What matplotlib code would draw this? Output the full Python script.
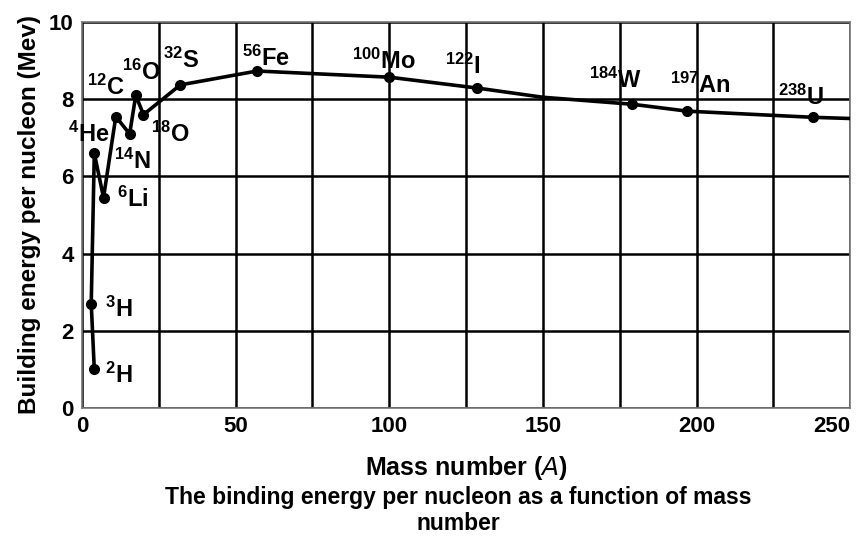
import matplotlib
matplotlib.use("Agg")
import matplotlib.pyplot as plt
from matplotlib.ticker import MultipleLocator

plt.rcParams['font.family'] = ['Liberation Sans', 'DejaVu Sans']
plt.rcParams['mathtext.default'] = 'regular'

# curve points (mass number as drawn, binding energy per nucleon in MeV)
curve_x = [4, 3, 4, 7, 11, 15.5, 17.5, 20, 32, 57, 100, 128.5, 150, 179, 197, 238, 250]
curve_y = [1.0, 2.7, 6.6, 5.45, 7.55, 7.1, 8.1, 7.6, 8.37, 8.73, 8.57, 8.29, 8.05, 7.87, 7.69, 7.53, 7.5]
marked = [True]*10 + [True, True, False, True, True, True, False]

labels = [r'$^{2}$H', r'$^{3}$H', r'$^{4}$He', r'$^{6}$Li', r'$^{12}$C', r'$^{14}$N',
          r'$^{16}$O', r'$^{18}$O', r'$^{32}$S', r'$^{56}$Fe', r'$^{100}$Mo', r'$^{122}$I',
          r'$^{184}$W', r'$^{197}$An', r'$^{238}$U']
label_x = [7.5, 7.5, -4.5, 11.5, 1.5, 10.5, 13.0, 22.5, 26.3, 52, 88, 118, 165, 191.5, 226.5]
label_y = [0.85, 2.55, 7.1, 5.4, 8.3, 6.4, 8.7, 7.1, 9.0, 9.05, 8.97, 8.85, 8.5, 8.37, 8.06]

xtick_vals = [0, 50, 100, 150, 200, 250]
xtick_labels = ['0', '50', '100', '150', '200', '250']

fig = plt.figure(figsize=(8.57, 5.58), dpi=100)
ax = fig.add_axes([0.0957, 0.2688, 0.8963, 0.6918])

ax.set_xlim(0, 250)
ax.set_ylim(0, 10)
ax.set_xticks(xtick_vals)
ax.set_xticklabels(xtick_labels)
ax.xaxis.set_minor_locator(MultipleLocator(25))
ax.yaxis.set_major_locator(MultipleLocator(2))
ax.grid(True, which='both', color='black', lw=1.8)
ax.set_axisbelow(True)
ax.tick_params(which='both', length=0, labelsize=16, pad=6)
for lab in ax.get_xticklabels() + ax.get_yticklabels():
    lab.set_fontweight('bold')
ax.get_xticklabels()[-1].set_horizontalalignment('right')
for s in ax.spines.values():
    s.set_color('#777777')
    s.set_linewidth(1.2)
    s.set_linestyle((0, (2, 1)))

ax.plot(curve_x, curve_y, color='black', lw=2.6, zorder=3)
mx = [x for x, m in zip(curve_x, marked) if m]
my = [y for y, m in zip(curve_y, marked) if m]
ax.plot(mx, my, 'o', color='black', ms=7, zorder=4)

for t, x, y in zip(labels, label_x, label_y):
    ax.text(x, y, t, fontsize=17, fontweight='bold', ha='left', va='center',
            clip_on=False, zorder=5)

ax.set_xlabel('Mass number ($\\it{A}$)', fontsize=18, fontweight='bold', labelpad=12)
ax.set_ylabel('Building energy per nucleon (Mev)', fontsize=17.5, fontweight='bold', labelpad=6)

fig.text(0.535, 0.085, 'The binding energy per nucleon as a function of mass\nnumber',
         ha='center', va='center', fontsize=16.5, fontweight='bold', linespacing=1.15)

fig.savefig('out.png', dpi=100)
